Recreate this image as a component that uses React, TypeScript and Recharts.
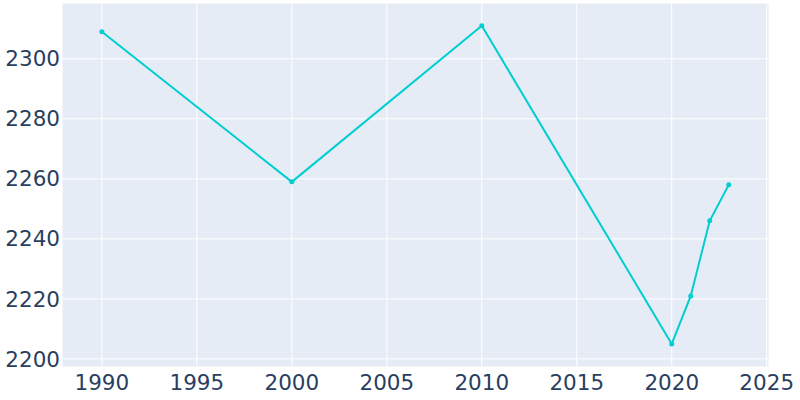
import { LineChart, Line, XAxis, YAxis, CartesianGrid } from 'recharts';

const years = [1990, 2000, 2010, 2020, 2021, 2022, 2023];
const population = [2309, 2259, 2311, 2205, 2221, 2246, 2258];
const xTicks = [1990, 1995, 2000, 2005, 2010, 2015, 2020, 2025];
const yTicks = [2200, 2220, 2240, 2260, 2280, 2300];

const data = years.map((year, i) => ({ year, population: population[i] }));

const tickStyle = { fontSize: 21.5, fill: '#2a3f5f', fontFamily: 'DejaVu Sans' };

export default function App() {
  return (
    <div style={{ position: 'absolute', left: 0, top: 0, width: 800, height: 400, background: '#fff' }}>
      <LineChart width={800} height={400} data={data} margin={{ top: 3, right: 31, bottom: 0, left: 0 }}>
        <CartesianGrid fill="#e5ecf6" stroke="#ffffff" strokeWidth={1} />
        <XAxis
          dataKey="year"
          type="number"
          domain={[1987.9, 2025.12]}
          ticks={xTicks}
          allowDataOverflow
          axisLine={false}
          tickLine={false}
          tickSize={0}
          tickMargin={8}
          height={33}
          tick={tickStyle}
        />
        <YAxis
          type="number"
          domain={[2197.3, 2318.6]}
          ticks={yTicks}
          allowDataOverflow
          axisLine={false}
          tickLine={false}
          tickSize={0}
          tickMargin={2}
          width={62}
          tick={tickStyle}
        />
        <Line
          dataKey="population"
          stroke="#00ced1"
          strokeWidth={2}
          dot={{ r: 2.5, fill: '#00ced1', stroke: '#00ced1', strokeWidth: 0 }}
          isAnimationActive={false}
        />
      </LineChart>
    </div>
  );
}
